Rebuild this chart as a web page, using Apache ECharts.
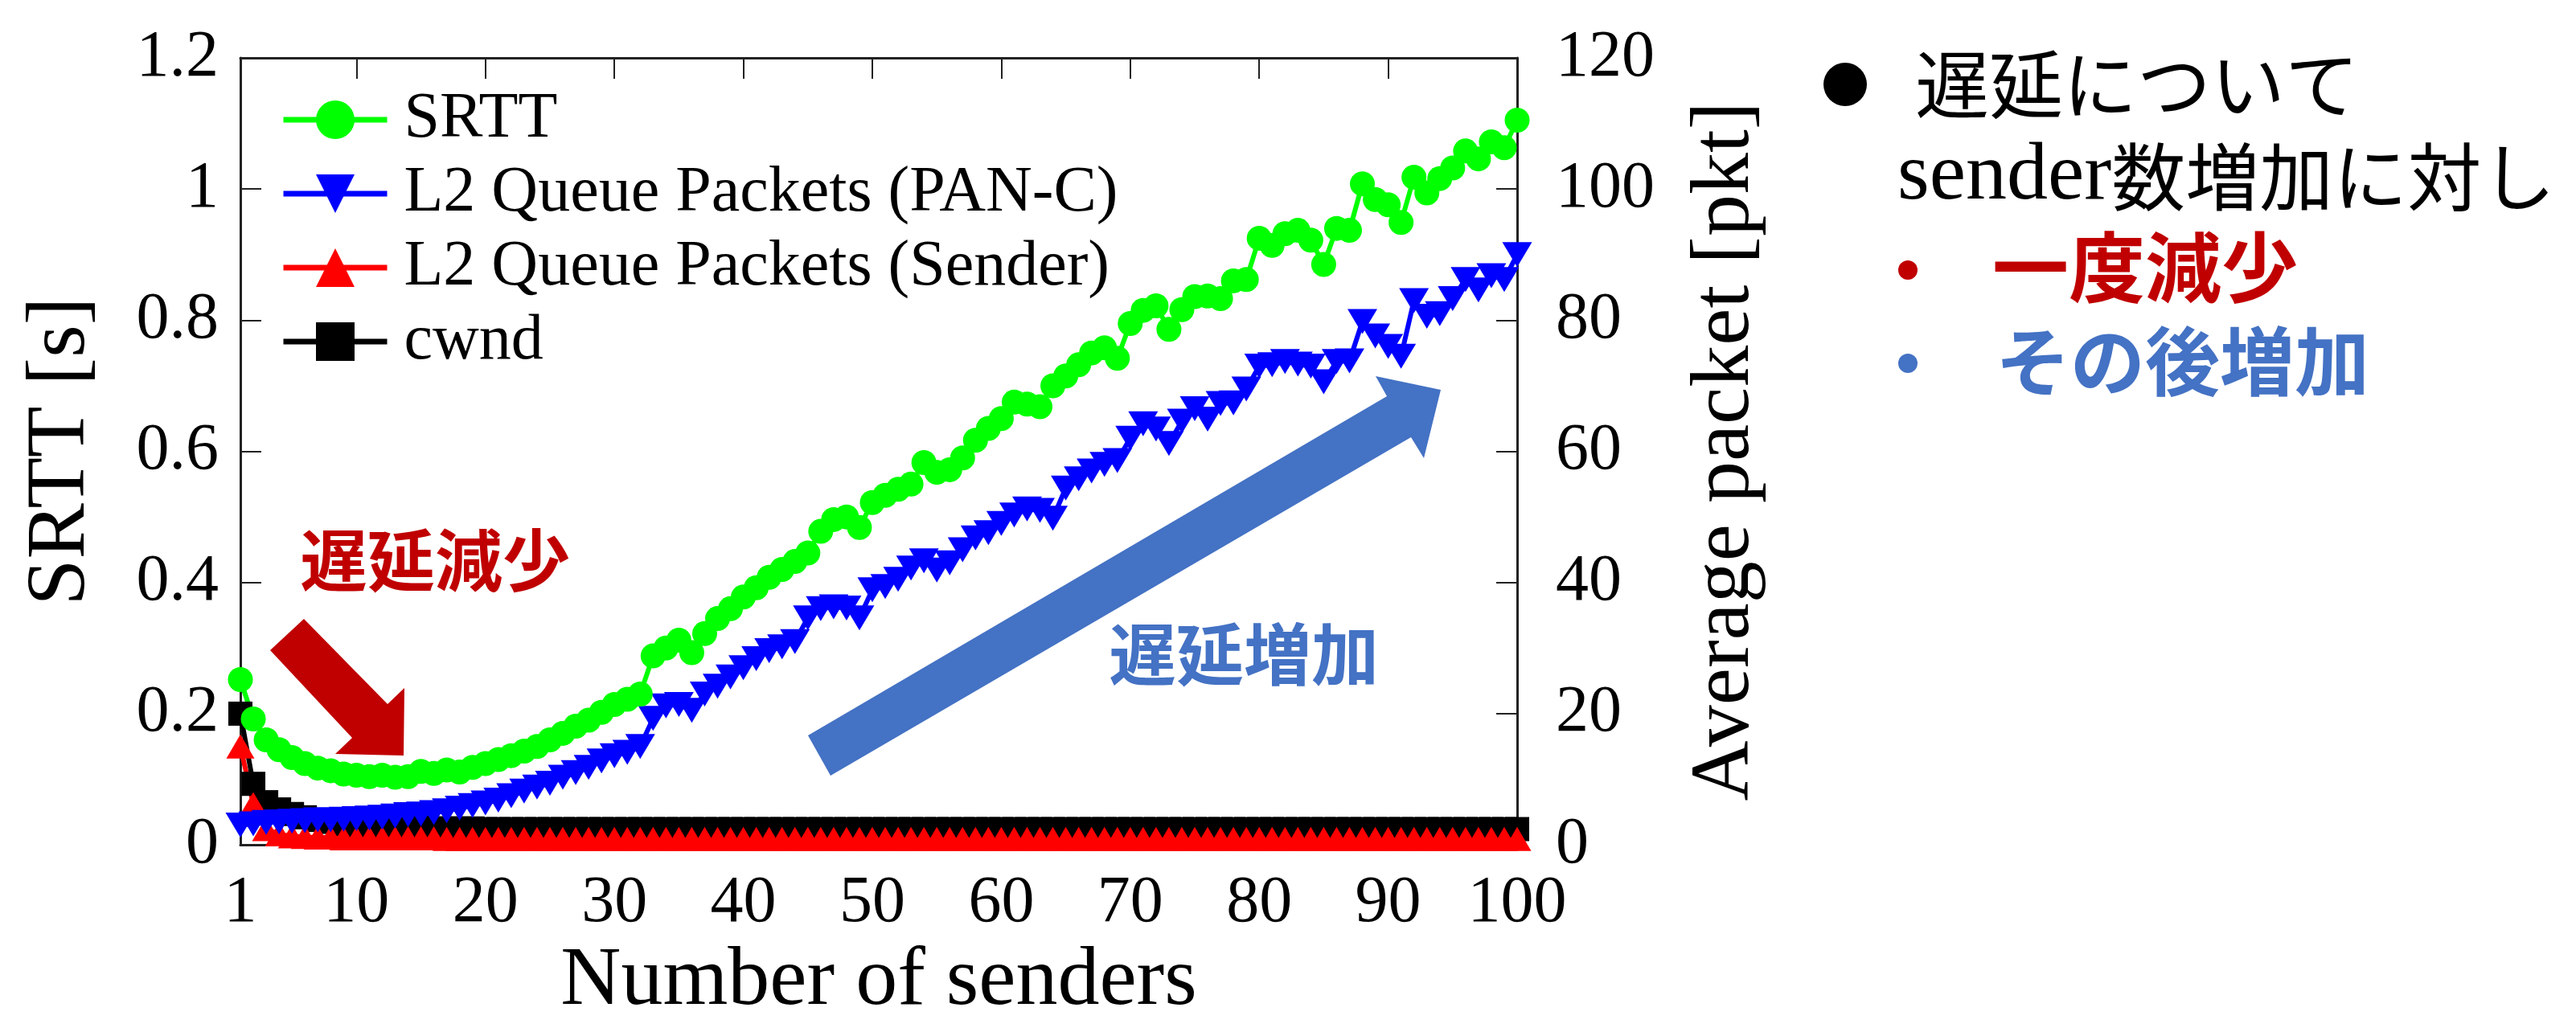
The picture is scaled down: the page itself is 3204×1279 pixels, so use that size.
<!DOCTYPE html>
<html>
<head>
<meta charset="utf-8">
<script src="https://cdn.jsdelivr.net/npm/echarts@6/dist/echarts.min.js"></script>
<style>
html,body{margin:0;padding:0;background:#fff;}
#chart{width:3204px;height:1279px;}
</style>
</head>
<body>
<div id="chart"></div>
<script>
// ---------------- data ----------------
const senders = [
  1,2,3,4,5,6,7,8,9,10,
  11,12,13,14,15,16,17,18,19,20,
  21,22,23,24,25,26,27,28,29,30,
  31,32,33,34,35,36,37,38,39,40,
  41,42,43,44,45,46,47,48,49,50,
  51,52,53,54,55,56,57,58,59,60,
  61,62,63,64,65,66,67,68,69,70,
  71,72,73,74,75,76,77,78,79,80,
  81,82,83,84,85,86,87,88,89,90,
  91,92,93,94,95,96,97,98,99,100
];
const xTickValues = [1,10,20,30,40,50,60,70,80,90,100];

// SRTT [s] (left axis)
const srtt = [
  0.252,0.192,0.160,0.145,0.133,0.124,0.117,0.113,0.108,0.106,
  0.104,0.106,0.103,0.104,0.112,0.109,0.114,0.111,0.118,0.124,
  0.130,0.136,0.143,0.150,0.160,0.170,0.181,0.190,0.202,0.214,
  0.222,0.230,0.288,0.300,0.312,0.293,0.322,0.345,0.360,0.378,
  0.392,0.408,0.420,0.432,0.445,0.478,0.496,0.500,0.484,0.522,
  0.533,0.542,0.550,0.583,0.568,0.572,0.590,0.617,0.635,0.650,
  0.675,0.672,0.668,0.700,0.715,0.732,0.750,0.758,0.742,0.795,
  0.815,0.822,0.786,0.816,0.836,0.837,0.833,0.860,0.862,0.925,
  0.914,0.932,0.937,0.922,0.885,0.940,0.937,1.008,0.984,0.976,
  0.949,1.018,0.994,1.016,1.032,1.058,1.046,1.072,1.063,1.105
];
// L2 Queue Packets (PAN-C) [pkt] (right axis)
const queuePanC = [
  3.0,3.2,3.4,3.5,3.6,3.7,3.8,3.8,3.9,4.0,
  4.1,4.2,4.4,4.6,4.7,4.9,5.2,5.6,6.0,6.4,
  6.8,7.5,8.2,8.8,9.4,10.3,11.0,11.8,12.8,13.6,
  14.1,15.0,19.3,21.2,21.4,20.5,23.0,24.2,25.6,27.0,
  28.4,29.6,30.2,31.0,34.6,36.0,36.3,36.1,34.6,38.9,
  39.4,40.5,42.2,43.3,41.9,43.0,45.0,46.8,47.6,49.0,
  50.3,51.2,51.0,49.8,54.4,55.8,57.0,58.0,58.6,62.0,
  64.2,63.4,61.2,64.6,66.5,64.9,67.3,67.4,69.5,73.0,
  73.2,73.7,73.3,73.0,70.6,73.7,73.8,79.8,77.6,76.0,
  74.5,83.0,80.6,81.0,83.3,86.2,84.6,86.8,86.2,90.0
];
// L2 Queue Packets (Sender) [pkt] (right axis)
const queueSender = [
  15.0,6.2,2.4,1.6,1.3,1.2,1.1,1.1,1.0,1.0,
  1.0,1.0,1.0,1.0,1.0,1.0,0.9,0.9,0.9,0.9,
  0.9,0.9,0.9,0.9,0.9,0.9,0.9,0.9,0.9,0.9,
  0.9,0.9,0.9,0.9,0.9,0.9,0.9,0.9,0.9,0.9,
  0.9,0.9,0.9,0.9,0.9,0.9,0.9,0.9,0.9,0.9,
  0.9,0.9,0.9,0.9,0.9,0.9,0.9,0.9,0.9,0.9,
  0.9,0.9,0.9,0.9,0.9,0.9,0.9,0.9,0.9,0.9,
  0.9,0.9,0.9,0.9,0.9,0.9,0.9,0.9,0.9,0.9,
  0.9,0.9,0.9,0.9,0.9,0.9,0.9,0.9,0.9,0.9,
  0.9,0.9,0.9,0.9,0.9,0.9,0.9,0.9,0.9,0.9
];
// cwnd [pkt] (right axis)
const cwnd = [
  20.0,9.3,6.5,5.4,4.7,4.2,3.8,3.5,3.2,3.0,
  2.9,2.8,2.7,2.6,2.6,2.5,2.5,2.5,2.5,2.4,
  2.4,2.4,2.4,2.4,2.4,2.4,2.4,2.4,2.4,2.4,
  2.4,2.4,2.4,2.4,2.4,2.4,2.4,2.4,2.4,2.4,
  2.4,2.4,2.4,2.4,2.4,2.4,2.4,2.4,2.4,2.4,
  2.4,2.4,2.4,2.4,2.4,2.4,2.4,2.4,2.4,2.4,
  2.4,2.4,2.4,2.4,2.4,2.4,2.4,2.4,2.4,2.4,
  2.4,2.4,2.4,2.4,2.4,2.4,2.4,2.4,2.4,2.4,
  2.4,2.4,2.4,2.4,2.4,2.4,2.4,2.4,2.4,2.4,
  2.4,2.4,2.4,2.4,2.4,2.4,2.4,2.4,2.4,2.4
];

const seriesNames = ['SRTT','L2 Queue Packets (PAN-C)','L2 Queue Packets (Sender)','cwnd'];
const xAxisName = 'Number of senders';
const yLeftName = 'SRTT [s]';
const yRightName = 'Average packet [pkt]';
const noteDecrease = '遅延減少';
const noteIncrease = '遅延増加';
const sideLine1 = '遅延について';
const sideLine2a = 'sender';
const sideLine2b = '数増加に対し';
const sideLine3 = '一度減少';
const sideLine4 = 'その後増加';

// ---------------- styling ----------------
const SERIF = '"Liberation Serif", "Times New Roman", serif';
const CJK = '"Noto Sans CJK JP", sans-serif';
const AXIS_COLOR = '#222';
const DARK_RED = '#C00000';
const SLIDE_BLUE = '#4472C4';
const LINE_W = 6;

function pairs(ys){ return senders.map((x,i)=>[x, ys[i]]); }

const axisLine = {show:true, onZero:false, lineStyle:{color:AXIS_COLOR, width:3}};
const tickStyle = {color:AXIS_COLOR, width:2};
const labelFont = {fontFamily:SERIF, fontSize:82, color:'#000'};
const nameFont = {fontFamily:SERIF, fontSize:104, color:'#000'};

const chart = echarts.init(document.getElementById('chart'), null, {renderer:'canvas'});

const option = {
  animation:false,
  backgroundColor:'#fff',
  grid:{left:299, top:72, right:1317, bottom:199, containLabel:false},
  legend:{
    orient:'vertical', left:344, top:104,
    itemWidth:129, itemHeight:60, itemGap:12,
    data:seriesNames,
    lineStyle:{width:7},
    textStyle:{fontFamily:SERIF, fontSize:80, color:'#000', lineHeight:60, padding:[0,0,0,16]},
    selectedMode:false
  },
  xAxis:[
    {
      type:'value', min:1, max:100, position:'bottom',
      axisLine:axisLine,
      axisTick:{show:true, inside:true, length:26, customValues:xTickValues, lineStyle:tickStyle},
      axisLabel:Object.assign({customValues:xTickValues, margin:32}, labelFont),
      splitLine:{show:false},
      name:xAxisName, nameLocation:'middle', nameGap:112, nameTextStyle:nameFont
    },
    {
      type:'value', min:1, max:100, position:'top',
      axisLine:axisLine,
      axisTick:{show:true, inside:true, length:26, customValues:xTickValues, lineStyle:tickStyle},
      axisLabel:{show:false},
      splitLine:{show:false}
    }
  ],
  yAxis:[
    {
      type:'value', min:0, max:1.2, interval:0.2, position:'left',
      axisLine:axisLine,
      axisTick:{show:true, inside:true, length:26, lineStyle:tickStyle},
      axisLabel:Object.assign({margin:27}, labelFont),
      splitLine:{show:false},
      name:yLeftName, nameLocation:'middle', nameGap:170, nameRotate:90, nameTextStyle:nameFont
    },
    {
      type:'value', min:0, max:120, interval:20, position:'right',
      axisLine:axisLine,
      axisTick:{show:true, inside:true, length:26, lineStyle:tickStyle},
      axisLabel:Object.assign({margin:48}, labelFont),
      splitLine:{show:false},
      name:yRightName, nameLocation:'middle', nameGap:208, nameRotate:90, nameTextStyle:nameFont
    }
  ],
  series:[
    {
      name:seriesNames[3], type:'line', yAxisIndex:1, data:pairs(cwnd),
      symbol:'rect', symbolSize:30, clip:false,
      lineStyle:{color:'#000', width:LINE_W}, itemStyle:{color:'#000'}
    },
    {
      name:seriesNames[2], type:'line', yAxisIndex:1, data:pairs(queueSender),
      symbol:'triangle', symbolSize:[35,30], clip:false,
      lineStyle:{color:'#FF0000', width:LINE_W}, itemStyle:{color:'#FF0000'}
    },
    {
      name:seriesNames[1], type:'line', yAxisIndex:1, data:pairs(queuePanC),
      symbol:'triangle', symbolRotate:180, symbolSize:[37,31], clip:false,
      lineStyle:{color:'#0000FF', width:LINE_W}, itemStyle:{color:'#0000FF'}
    },
    {
      name:seriesNames[0], type:'line', yAxisIndex:0, data:pairs(srtt),
      symbol:'circle', symbolSize:31, clip:false,
      lineStyle:{color:'#00FF00', width:LINE_W}, itemStyle:{color:'#00FF00'}
    }
  ],
  graphic:[
    // red annotation arrow (down-right)
    {type:'polygon', z:10, shape:{points:[[336,809],[378,770],[482,876],[503,856],[502,940],[417,938],[438,918]]}, style:{fill:DARK_RED}},
    {type:'text', z:10, x:541, y:697, style:{text:noteDecrease, fontFamily:CJK, fontSize:84, fontWeight:'bold', fill:DARK_RED, align:'center', verticalAlign:'middle'}},
    // blue annotation arrow (up-right)
    {type:'polygon', z:10, shape:{points:[[1005,915],[1725,493],[1711,468],[1792,485],[1771,570],[1755,544],[1033,965]]}, style:{fill:SLIDE_BLUE}},
    {type:'text', z:10, x:1547, y:814, style:{text:noteIncrease, fontFamily:CJK, fontSize:84, fontWeight:'bold', fill:SLIDE_BLUE, align:'center', verticalAlign:'middle'}},
    // side notes
    {type:'circle', shape:{cx:2295, cy:105, r:27}, style:{fill:'#000'}},
    {type:'text', x:2382, y:105, style:{text:sideLine1, fontFamily:CJK, fontSize:92, fill:'#000', align:'left', verticalAlign:'middle'}},
    {type:'text', x:2360, y:220, style:{
      text:'{s|' + sideLine2a + '}{c|' + sideLine2b + '}',
      align:'left', verticalAlign:'middle',
      rich:{
        s:{fontFamily:SERIF, fontSize:102, fill:'#000', verticalAlign:'middle'},
        c:{fontFamily:CJK, fontSize:92, fill:'#000', verticalAlign:'middle'}
      }
    }},
    {type:'circle', shape:{cx:2373, cy:336, r:12}, style:{fill:DARK_RED}},
    {type:'text', x:2478, y:333, style:{text:sideLine3, fontFamily:CJK, fontSize:95, fontWeight:'bold', fill:DARK_RED, align:'left', verticalAlign:'middle'}},
    {type:'circle', shape:{cx:2373, cy:452, r:12}, style:{fill:SLIDE_BLUE}},
    {type:'text', x:2482, y:450, style:{text:sideLine4, fontFamily:CJK, fontSize:93, fontWeight:'bold', fill:SLIDE_BLUE, align:'left', verticalAlign:'middle'}}
  ]
};

chart.setOption(option);
</script>
</body>
</html>
